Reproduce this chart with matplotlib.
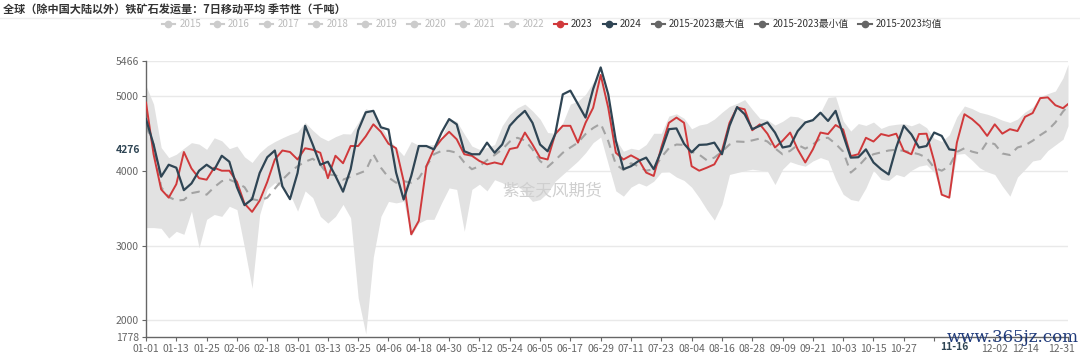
import numpy as np
import pandas as pd
import matplotlib
matplotlib.use("Agg")
import matplotlib.pyplot as plt
from matplotlib.lines import Line2D
from matplotlib.transforms import blended_transform_factory, ScaledTranslation

plt.rcParams['font.family'] = ['Noto Sans CJK SC', 'DejaVu Sans']

# 横轴：闰年日历 01-01 ... 12-31
days = pd.date_range("2024-01-01", "2024-12-31").strftime("%m-%d").tolist()

# 读图取值：每3天一个点（最后补 12-31）
sample_days = days[0:364:3] + [days[365]]
sample_days_2024 = days[0:319:3] + ["11-16"]

s2023 = [4910, 4220, 3750, 3640, 3820, 4250, 4030, 3900, 3880, 4040, 4000, 4000, 3850, 3560, 3450,
         3600, 3850, 4150, 4270, 4250, 4150, 4300, 4280, 4240, 3900, 4200, 4100, 4330, 4330, 4460,
         4620, 4520, 4360, 4300, 3860, 3150, 3330, 4060, 4290, 4420, 4520, 4420, 4220, 4200, 4130,
         4085, 4110, 4085, 4290, 4310, 4510, 4350, 4175, 4150, 4490, 4600, 4600, 4375, 4640, 4840,
         5280, 4840, 4240, 4150, 4205, 4150, 3975, 3930, 4310, 4640, 4710, 4640, 4060, 4000, 4040,
         4085, 4265, 4640, 4845, 4820, 4540, 4620, 4495, 4310, 4400, 4510, 4285, 4110, 4285, 4510,
         4490, 4610, 4550, 4195, 4220, 4440, 4390, 4490, 4465, 4495, 4265, 4220, 4490, 4495, 4130,
         3680, 3640, 4375, 4755, 4690, 4600, 4465, 4620, 4495, 4555, 4530, 4720, 4770, 4970, 4980,
         4875, 4835, 4890]

s2024 = [4690, 4350, 3920, 4080, 4040, 3740, 3830, 4000, 4080, 4010, 4200, 4120, 3780, 3540, 3620,
         3970, 4180, 4270, 3790, 3620, 3970, 4600, 4350, 4080, 4120, 3930, 3720, 4020, 4540, 4780,
         4800, 4580, 4550, 3975, 3615, 3930, 4330, 4330, 4285, 4510, 4690, 4620, 4260, 4220, 4220,
         4375, 4240, 4350, 4600, 4710, 4800, 4640, 4350, 4260, 4490, 5020, 5070, 4890, 4710, 5090,
         5380, 5020, 4400, 4020, 4060, 4130, 4175, 4020, 4265, 4555, 4565, 4360, 4245, 4345, 4350,
         4375, 4220, 4600, 4850, 4755, 4555, 4600, 4645, 4510, 4310, 4330, 4530, 4645, 4675, 4775,
         4665, 4800, 4480, 4175, 4180, 4285, 4110, 4020, 3950, 4310, 4600, 4485, 4310, 4330, 4510,
         4465, 4285, 4276]

s_mean = [4600, 4350, 3780, 3650, 3600, 3610, 3700, 3720, 3680, 3780, 3860, 3880, 3840, 3780, 3620,
          3600, 3640, 3760, 3880, 3980, 4060, 4120, 4160, 4080, 3950, 3940, 3880, 3920, 3960, 4000,
          4220, 4040, 3910, 3840, 3860, 3840, 3900, 4060, 4220, 4265, 4265, 4240, 4110, 4020, 4060,
          4140, 4210, 4285, 4390, 4440, 4405, 4285, 4130, 4050, 4140, 4240, 4310, 4375, 4490, 4570,
          4630, 4395, 4085, 4010, 4100, 4060, 4000, 4020, 4180, 4300, 4350, 4345, 4255, 4215, 4140,
          4175, 4255, 4350, 4390, 4385, 4405, 4430, 4390, 4300, 4220, 4265, 4345, 4295, 4350, 4430,
          4440, 4360, 4255, 3975, 4060, 4170, 4220, 4245, 4270, 4280, 4265, 4245, 4220, 4175, 4040,
          4000, 4060, 4250, 4300, 4255, 4230, 4385, 4355, 4230, 4210, 4310, 4340, 4400, 4475, 4540,
          4645, 4790, 4865]

s_max = [5135, 4890, 4310, 4175, 4220, 4300, 4375, 4355, 4285, 4440, 4400, 4295, 4330, 4185, 4110,
         4240, 4330, 4390, 4440, 4485, 4520, 4645, 4540, 4450, 4400, 4455, 4495, 4490, 4645, 4830,
         4780, 4600, 4430, 4310, 4200, 4390, 4340, 4340, 4350, 4440, 4690, 4660, 4490, 4330, 4285,
         4310, 4350, 4600, 4750, 4840, 4890, 4800, 4690, 4510, 4500, 4640, 4890, 4930, 5020, 5180,
         5300, 4930, 4420, 4260, 4300, 4280, 4350, 4500, 4500, 4730, 4760, 4700, 4560, 4610, 4630,
         4690, 4780, 4860, 4900, 4950, 4820, 4700, 4680, 4610, 4660, 4730, 4720, 4670, 4700, 4780,
         4980, 4990, 4665, 4530, 4630, 4605, 4650, 4565, 4605, 4620, 4630, 4600, 4640, 4575, 4435,
         4390, 4480, 4720, 4865, 4830, 4780, 4755, 4720, 4675, 4645, 4690, 4785, 4850, 4990, 5030,
         5065, 5240, 5420]

s_min = [3240, 3240, 3230, 3100, 3190, 3150, 3460, 2970, 3350, 3415, 3390, 3525, 3480, 2970, 2430,
         3415, 3750, 3840, 3775, 3685, 3460, 3730, 3640, 3390, 3300, 3390, 3550, 3370, 2300, 1820,
         2850, 3390, 3590, 3570, 3590, 3130, 3300, 3350, 3350, 3570, 3770, 3750, 3190, 3750, 3820,
         3730, 3880, 3840, 3780, 3810, 3705, 3590, 3615, 3705, 3860, 3950, 4040, 4130, 4240, 4375,
         4450, 4085, 3730, 3660, 3780, 3835, 3795, 3860, 3980, 3985, 3915, 3870, 3780, 3640, 3480,
         3340, 3550, 3950, 3975, 4000, 4020, 4005, 3995, 3815, 4020, 4120, 4085, 4060, 4130, 4175,
         4140, 3885, 3685, 3615, 3595, 3770, 4005, 3885, 3870, 3950, 3920, 4005, 4060, 4080, 3980,
         3680, 3640, 4220, 4230, 4140, 4040, 3985, 3950, 3795, 3660, 3915, 4020, 4130, 4150, 4270,
         4345, 4420, 4600]

legend_names = ["2015", "2016", "2017", "2018", "2019", "2020", "2021", "2022", "2023", "2024",
                "2015-2023最大值", "2015-2023最小值", "2015-2023均值"]

x = [days.index(d) for d in sample_days]
x24 = [days.index(d) for d in sample_days_2024]

c23 = "#d0393b"
c24 = "#2f4554"

fig = plt.figure(figsize=(10.8, 3.52), dpi=100)
ax = fig.add_axes([146 / 1080, 1 - 337 / 352, 922 / 1080, 276 / 352])

ax.fill_between(x, s_min, s_max, color="#e2e2e2", linewidth=0, zorder=1)
ax.plot(x, s_mean, color="#a3a3a3", linewidth=1.5, dashes=(4, 3), zorder=2)
ax.plot(x, s2023, color=c23, linewidth=1.4, zorder=3)
ax.plot(x24, s2024, color=c24, linewidth=1.6, zorder=4)

ax.set_xlim(0, 365)
ax.set_ylim(1778, 5466)

yt = [1778, 2000, 3000, 4000, 5000, 5466]
ax.set_yticks(yt)
ax.set_yticklabels([str(v) for v in yt], fontsize=7.5, color="#666666")
for v in yt[1:]:
    ax.axhline(v, color="#e9e9e9", linewidth=1, zorder=0)

xt = list(range(0, 361, 12)) + [365]
xl = []
for i in xt:
    if i in (312, 324, 360):
        xl.append("")
    else:
        xl.append(days[i])
ax.set_xticks(xt)
ax.set_xticklabels(xl, fontsize=7.5, color="#666666")
ax.tick_params(axis="both", length=3, color="#666666", pad=2)
# 最后一个标签稍微左移，避免出界
last = ax.get_xticklabels()[-1]
last.set_transform(last.get_transform() + ScaledTranslation(-7 / 100, 0, fig.dpi_scale_trans))

for s in ["top", "right"]:
    ax.spines[s].set_visible(False)
for s in ["left", "bottom"]:
    ax.spines[s].set_color("#666666")
    ax.spines[s].set_linewidth(1)

# 当前值指示
ax.text(days.index("11-16"), -0.018, "11-16", transform=blended_transform_factory(ax.transData, ax.transAxes),
        ha="center", va="top", fontsize=7.5, fontweight="bold", color=c24,
        bbox=dict(facecolor="white", edgecolor="none", pad=0.3))
ax.text(-0.006, 4276, "4276", transform=blended_transform_factory(ax.transAxes, ax.transData),
        ha="right", va="center", fontsize=7.5, fontweight="bold", color=c24)

# 水印
ax.text(0.44, 0.53, "紫金天风期货", transform=ax.transAxes, fontsize=12, color="#cfcfcf",
        ha="center", va="center", zorder=5)
fig.text(1013 / 1080, 0.04, "www.365jz.com", fontsize=12, color="#1f3a7a", family="DejaVu Serif",
         ha="center", va="center")

# 标题
fig.text(0.003, 0.975, "全球（除中国大陆以外）铁矿石发运量：7日移动平均 季节性（千吨）",
         fontsize=8, fontweight="bold", color="#333333", ha="left", va="center")
fig.add_artist(Line2D([0, 1], [1 - 18 / 352, 1 - 18 / 352], color="#eeeeee", linewidth=1,
                      transform=fig.transFigure))

# 图例
colors = ["#cccccc"] * 8 + [c23, c24, "#666666", "#666666", "#666666"]
handles = [Line2D([], [], color=c, marker="o", markersize=4.5, linewidth=1.5) for c in colors]
leg = fig.legend(handles, legend_names, loc="center", bbox_to_anchor=(0.511, 1 - 24 / 352), ncol=13,
                 frameon=False, fontsize=7, handlelength=1.4, handletextpad=0.4, columnspacing=1.0)
for t, c in zip(leg.get_texts(), colors):
    t.set_color("#bbbbbb" if c == "#cccccc" else "#333333")

fig.savefig("out.png", dpi=100)
